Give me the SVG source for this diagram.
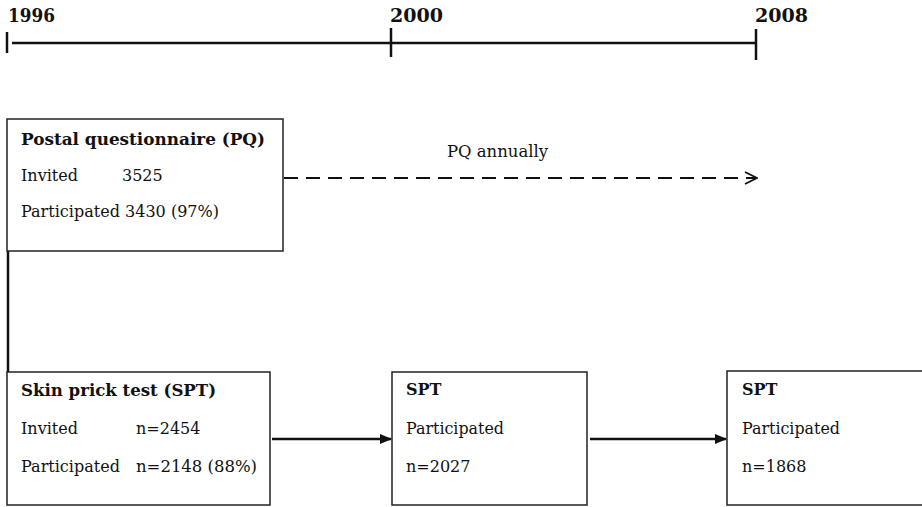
<svg xmlns="http://www.w3.org/2000/svg" width="922" height="507" viewBox="0 0 922 507">
  <style>
    text { font-family: "DejaVu Serif", "Liberation Serif", serif; font-size: 16px; fill: #111; }
    .b { font-weight: bold; }
    .yr { font-weight: bold; font-size: 18px; }
    .box { fill: #fff; stroke: #222; stroke-width: 1.5; }
    .tl { stroke: #111; stroke-width: 2.5; fill: none; }
    .conn { stroke: #111; stroke-width: 2.5; fill: none; }
    .dash { stroke: #111; stroke-width: 1.8; fill: none; stroke-dasharray: 14 8; }
  </style>
  <defs>
    <marker id="tri" markerWidth="12" markerHeight="10" refX="11" refY="5" orient="auto" markerUnits="userSpaceOnUse">
      <path d="M0,0 L12,5 L0,10 Z" fill="#111"/>
    </marker>
    <marker id="chev" markerWidth="14" markerHeight="14" refX="13" refY="7" orient="auto" markerUnits="userSpaceOnUse">
      <path d="M1,1 L13,7 L1,13" fill="none" stroke="#111" stroke-width="1.8"/>
    </marker>
  </defs>

  <g id="timeline">
    <line class="tl" x1="12" y1="43" x2="756" y2="43"/>
    <line class="tl" x1="7" y1="32" x2="7" y2="53"/>
    <line class="tl" x1="391" y1="28" x2="391" y2="57"/>
    <line class="tl" x1="756" y1="29" x2="756" y2="60"/>
    <text class="yr" x="8" y="22" textLength="47" lengthAdjust="spacingAndGlyphs">1996</text>
    <text class="yr" x="390" y="22" textLength="53" lengthAdjust="spacingAndGlyphs">2000</text>
    <text class="yr" x="755" y="22" textLength="53" lengthAdjust="spacingAndGlyphs">2008</text>
  </g>

  <g id="connectors">
    <line class="conn" x1="8" y1="251" x2="8" y2="372"/>
    <line class="dash" x1="284" y1="178" x2="757" y2="178" marker-end="url(#chev)"/>
    <line class="conn" x1="272" y1="439" x2="391" y2="439" marker-end="url(#tri)"/>
    <line class="conn" x1="590" y1="439" x2="726" y2="439" marker-end="url(#tri)"/>
    <text x="447" y="157" textLength="101" lengthAdjust="spacingAndGlyphs">PQ annually</text>
  </g>

  <g id="pq">
    <rect class="box" x="7" y="119" width="276" height="132"/>
    <text class="b" x="21" y="145" textLength="244" lengthAdjust="spacingAndGlyphs">Postal questionnaire (PQ)</text>
    <text x="21" y="181">Invited</text>
    <text x="122" y="181">3525</text>
    <text x="21" y="217" textLength="198" lengthAdjust="spacingAndGlyphs">Participated 3430 (97%)</text>
  </g>

  <g id="spt1">
    <rect class="box" x="7" y="372" width="263" height="133"/>
    <text class="b" x="21" y="396" textLength="195" lengthAdjust="spacingAndGlyphs">Skin prick test (SPT)</text>
    <text x="21" y="434">Invited</text>
    <text x="136" y="434">n=2454</text>
    <text x="21" y="472" textLength="99" lengthAdjust="spacingAndGlyphs">Participated</text>
    <text x="136" y="472" textLength="121" lengthAdjust="spacingAndGlyphs">n=2148 (88%)</text>
  </g>

  <g id="spt2">
    <rect class="box" x="392" y="372" width="195" height="133"/>
    <text class="b" x="406" y="395">SPT</text>
    <text x="406" y="434" textLength="98" lengthAdjust="spacingAndGlyphs">Participated</text>
    <text x="406" y="472">n=2027</text>
  </g>

  <g id="spt3">
    <rect class="box" x="727" y="371" width="210" height="134"/>
    <text class="b" x="742" y="395">SPT</text>
    <text x="742" y="434" textLength="98" lengthAdjust="spacingAndGlyphs">Participated</text>
    <text x="742" y="472">n=1868</text>
  </g>
</svg>
